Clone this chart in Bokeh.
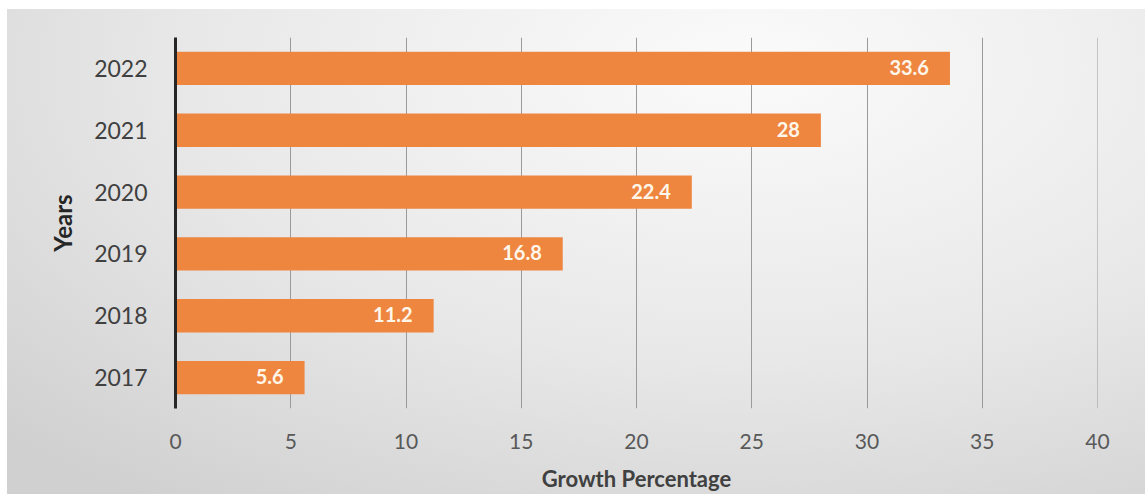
from bokeh.plotting import figure
from bokeh.models import ColumnDataSource, FactorRange, LabelSet, Span
from bokeh.core.properties import value
from bokeh.embed import file_html
from bokeh.resources import INLINE

years = ["2017", "2018", "2019", "2020", "2021", "2022"]
growth = [5.6, 11.2, 16.8, 22.4, 28, 33.6]
labels = ["5.6", "11.2", "16.8", "22.4", "28", "33.6"]
x_ticks = [0, 5, 10, 15, 20, 25, 30, 35, 40]

src = ColumnDataSource(dict(years=years, growth=growth, labels=labels))

FONT = "Lato"
GRID = "#9a9a9a"

p = figure(
    width=1138, height=485,
    y_range=FactorRange(*years, range_padding=0),
    x_range=(x_ticks[0], x_ticks[-1]),
    output_backend="svg", toolbar_location=None,
    min_border_left=168, min_border_right=48,
    min_border_top=28, min_border_bottom=86,
    margin=(9, 0, 0, 7),
    styles={"background": "radial-gradient(ellipse 90% 110% at 65% 12%, #fbfbfb 0%, #e8e8e8 55%, #d0d0d0 100%)"},
)
p.border_fill_alpha = 0
p.background_fill_alpha = 0
p.outline_line_color = None

p.hbar(y="years", right="growth", left=0, height=0.54, source=src,
       fill_color="#EE8640", line_color=None)

p.add_layout(LabelSet(x="growth", y="years", text="labels", source=src,
                      text_color="#FFF6EA", text_font=value(FONT), text_font_style="bold",
                      text_font_size="20px", text_align="right", text_baseline="middle",
                      x_offset=-21, y_offset=1))

# axes
p.xaxis.ticker = x_ticks
p.xaxis.axis_line_color = None
p.xaxis.major_tick_line_color = None
p.xaxis.minor_tick_line_color = None
p.xaxis.major_tick_out = 0
p.xaxis.major_label_text_font = FONT
p.xaxis.major_label_text_font_size = "21px"
p.xaxis.major_label_text_color = "#595959"
p.xaxis.major_label_standoff = 25
p.xaxis.axis_label = "Growth Percentage"
p.xaxis.axis_label_text_font = FONT
p.xaxis.axis_label_text_font_style = "bold"
p.xaxis.axis_label_text_font_size = "22px"
p.xaxis.axis_label_text_color = "#404040"
p.xaxis.axis_label_standoff = 13

p.yaxis.axis_line_color = "#262626"
p.yaxis.axis_line_width = 3
p.yaxis.major_tick_line_color = None
p.yaxis.minor_tick_line_color = None
p.yaxis.major_tick_out = 0
p.yaxis.major_label_text_font = FONT
p.yaxis.major_label_text_font_size = "23px"
p.yaxis.major_label_text_color = "#404040"
p.yaxis.major_label_standoff = 28
p.yaxis.axis_label = "Years"
p.yaxis.axis_label_text_font = FONT
p.yaxis.axis_label_text_font_style = "bold"
p.yaxis.axis_label_text_font_size = "24px"
p.yaxis.axis_label_text_color = "#262626"
p.yaxis.axis_label_standoff = 14

p.ygrid.grid_line_color = None
p.xgrid.ticker = x_ticks[1:]
p.xgrid.grid_line_color = GRID
p.xgrid.grid_line_width = 1
p.add_layout(Span(location=x_ticks[-1], dimension="height", line_color=GRID, line_width=1))

open("out.html", "w").write(file_html(p, INLINE))
